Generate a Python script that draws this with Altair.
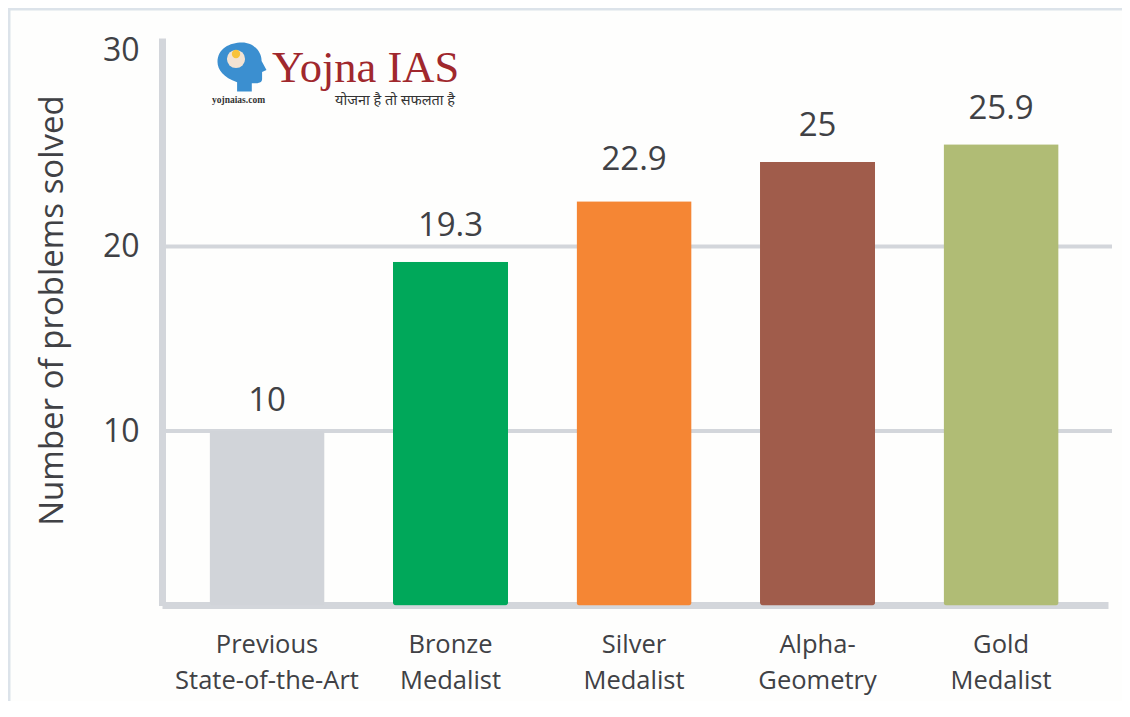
import altair as alt
import pandas as pd

categories = ["Previous|State-of-the-Art", "Bronze|Medalist", "Silver|Medalist", "Alpha-|Geometry", "Gold|Medalist"]
drawn_heights = [10, 19.18, 22.3, 24.3, 25.2]
value_labels = ["10", "19.3", "22.9", "25", "25.9"]
bar_colors = ["#D1D4D9", "#00A85A", "#F58634", "#A05C4B", "#B0BC75"]
y_ticks = [10, 20, 30]
grid_values = [10, 20]

FONT = "Open Sans"
INK = "#404145"
AXIS = "#D3D6DB"

df = pd.DataFrame({"cat": categories, "h": drawn_heights, "lab": value_labels})

y_scale = alt.Scale(domain=[0, 10, 20, 30, 30.6], range=[567.5, 393, 208.5, 12, 0])
x_scale = alt.Scale(domain=categories, paddingInner=0.373, paddingOuter=0.264, align=0.49)

y_axis = alt.Axis(values=y_ticks, labelFont=FONT, labelFontSize=32, labelColor=INK,
                  labelPadding=23, ticks=False, domainColor=AXIS, domainWidth=7, grid=False,
                  titleFont=FONT, titleFontSize=33, titleFontWeight="normal", titleColor=INK,
                  titleX=-110, titleY=272, titleAngle=270, titleAlign="center", titleBaseline="middle")
y_title = "Number of problems solved"

grid = alt.Chart(pd.DataFrame({"g": grid_values})).mark_rule(color=AXIS, strokeWidth=4).encode(
    y=alt.Y("g:Q", scale=y_scale, axis=y_axis, title=y_title),
    x=alt.value(0), x2=alt.value(950),
)

bars = alt.Chart(df).mark_bar(cornerRadiusBottomLeft=3, cornerRadiusBottomRight=3).encode(
    x=alt.X("cat:N", sort=categories, scale=x_scale, title=None,
            axis=alt.Axis(labelExpr="split(datum.label, '|')", labelAngle=0, labelFont=FONT,
                          labelFontSize=25.5, labelColor=INK, labelLineHeight=36, labelPadding=27,
                          labelLimit=400, labelOverlap=False,
                          labelBaseline="top", ticks=False, domainColor=AXIS, domainWidth=7, grid=False)),
    y=alt.Y("h:Q", scale=y_scale, axis=y_axis, title=y_title),
    color=alt.Color("cat:N", scale=alt.Scale(domain=categories, range=bar_colors), legend=None),
)

label_gap = {"10": -30, "19.3": -36, "22.9": -41, "25": -36, "25.9": -35}
labels = [
    alt.Chart(df[df.lab == k]).mark_text(font=FONT, fontSize=33, color=INK, baseline="middle", dy=v).encode(
        x=alt.X("cat:N", sort=categories, scale=x_scale),
        y=alt.Y("h:Q", scale=y_scale, axis=y_axis, title=y_title),
        text="lab:N",
    )
    for k, v in label_gap.items()
]

def note(txt, x, y, **kw):
    return alt.Chart(pd.DataFrame({"t": [txt]})).mark_text(align="left", **kw).encode(
        x=alt.value(x), y=alt.value(y), text="t:N")

HEAD = ("M-0.2,1 L-0.2,0.62 C-0.75,0.45 -1,0.1 -1,-0.2 C-1,-0.75 -0.5,-1 0,-1 "
        "C0.5,-1 0.8,-0.6 0.8,-0.25 L1,0.12 L0.82,0.2 L0.82,0.5 C0.82,0.66 0.6,0.68 0.4,0.66 L0.4,1 Z")
head = alt.Chart(pd.DataFrame({"t": [1]})).mark_point(shape=HEAD, filled=True, fill="#3B8FD0", opacity=1, size=2400, strokeWidth=0).encode(
    x=alt.value(80), y=alt.value(29))
inner = alt.Chart(pd.DataFrame({"t": [1]})).mark_point(shape="circle", filled=True, fill="#F3E3D3", opacity=1, size=330, strokeWidth=0).encode(
    x=alt.value(74), y=alt.value(21))
bulb = alt.Chart(pd.DataFrame({"t": [1]})).mark_point(shape="circle", filled=True, fill="#F8C33C", opacity=1, size=70, strokeWidth=0).encode(
    x=alt.value(74), y=alt.value(16))

logo = note("Yojna IAS", 110, 44, font="Liberation Serif", fontSize=44.5, color="#A0282D", baseline="alphabetic")
site = note("yojnaias.com", 50, 65, font="Liberation Serif", fontSize=9.5, fontWeight="bold", color="#333333", baseline="alphabetic")
motto = note("योजना है तो सफलता है", 173, 67, font="Noto Sans", fontSize=14.5, color="#333333", baseline="alphabetic")

frame_l = alt.Chart(pd.DataFrame({"t": [1]})).mark_rule(color="#DCE3EA", strokeWidth=3).encode(
    x=alt.value(-153), y=alt.value(-30), y2=alt.value(663))
frame_t = alt.Chart(pd.DataFrame({"t": [1]})).mark_rule(color="#DCE3EA", strokeWidth=3).encode(
    y=alt.value(-29), x=alt.value(-154), x2=alt.value(960))

chart = alt.layer(frame_l, frame_t, grid, bars, *labels, head, inner, bulb, logo, site, motto).resolve_scale(
    x="shared", y="shared"
).properties(
    width=946, height=567,
    padding={"left": 154, "top": 30, "right": 14, "bottom": 96},
    autosize=alt.AutoSizeParams(type="none"),
    background="#FEFEFD",
).configure_view(stroke=None)

chart.save("out.html", embed_options={"renderer": "svg", "actions": False})
